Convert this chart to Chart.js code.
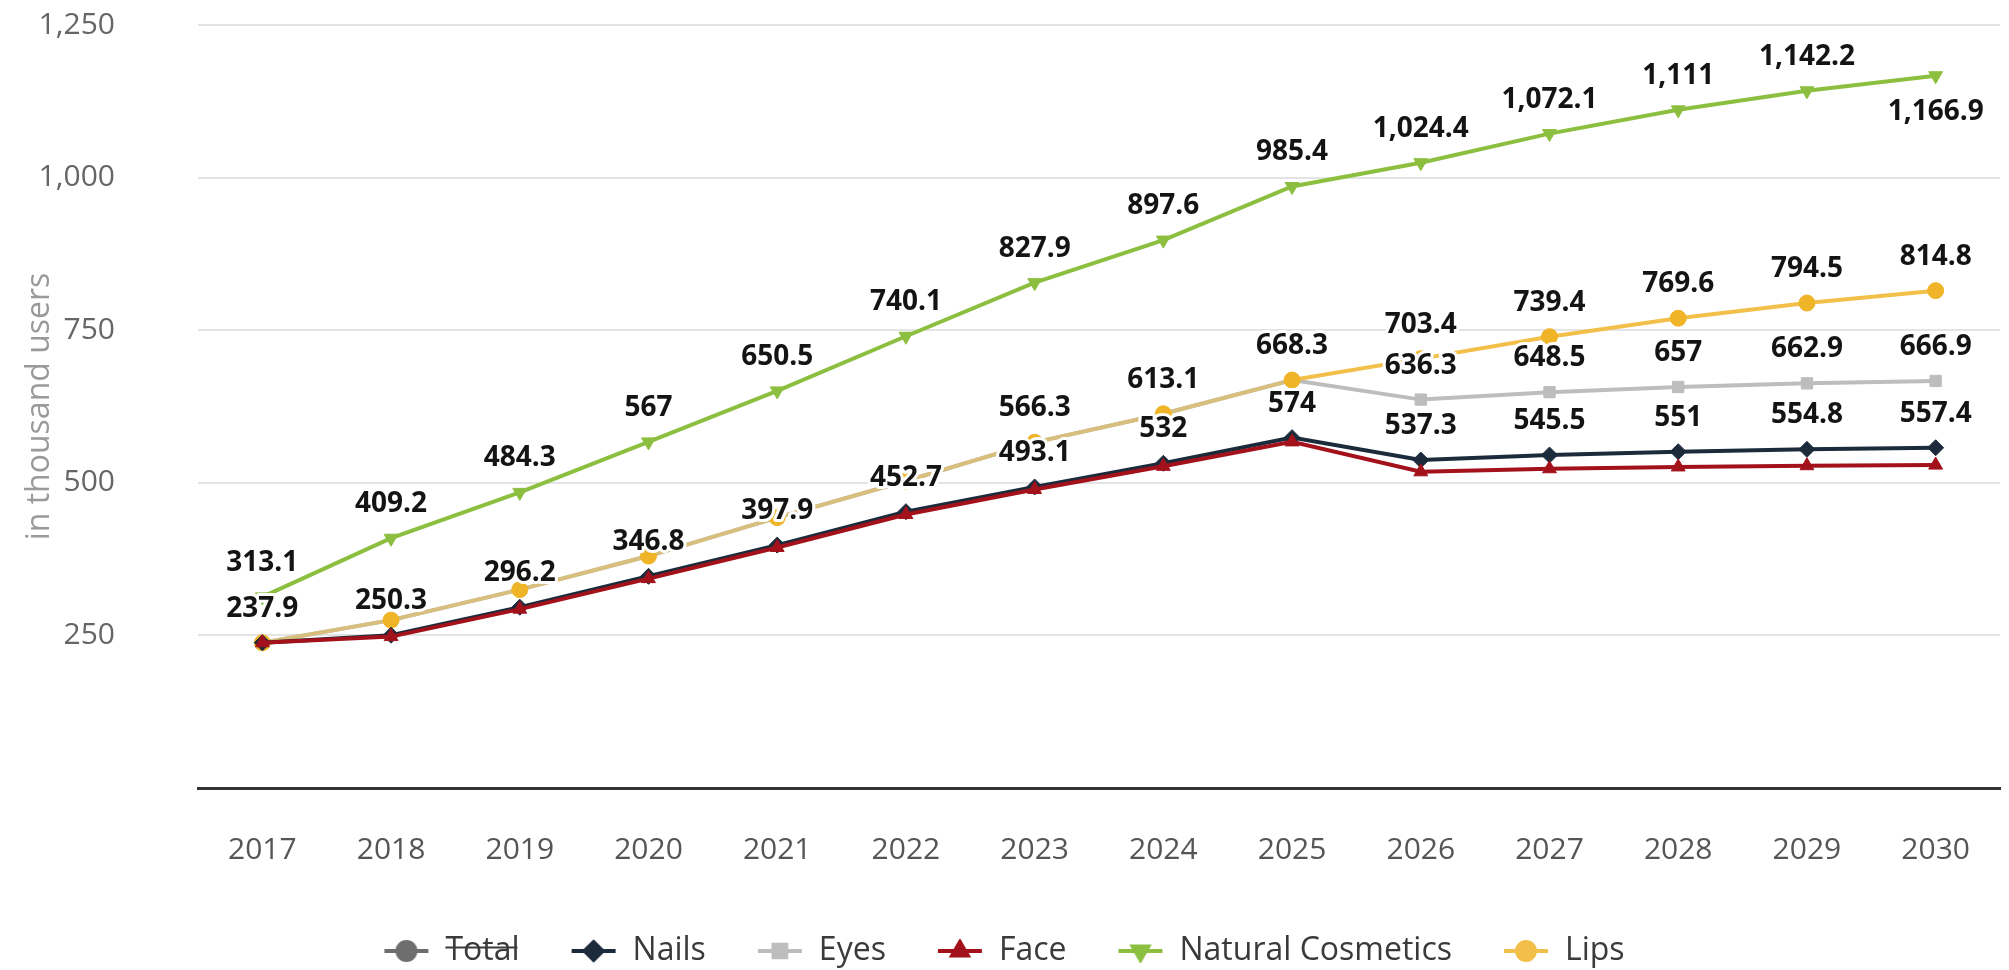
<!DOCTYPE html>
<html>
<head>
<meta charset="utf-8">
<script src="https://cdn.jsdelivr.net/npm/chart.js@4.4.1/dist/chart.umd.min.js"></script>
<style>
  html, body { margin: 0; padding: 0; background: #fff; }
  #wrap { width: 2009px; height: 970px; position: relative; }
</style>
</head>
<body>
<div id="wrap"><canvas id="users"></canvas></div>
<script>
const years = ['2017','2018','2019','2020','2021','2022','2023','2024','2025','2026','2027','2028','2029','2030'];
const total = [];
const nails = [237.9, 250.3, 296.2, 346.8, 397.9, 452.7, 493.1, 532, 574, 537.3, 545.5, 551, 554.8, 557.4];
const eyes = [237.9, 275, 325, 380, 443, 503, 566.3, 613.1, 668.3, 636.3, 648.5, 657, 662.9, 666.9];
const face = [237.9, 248, 293, 343, 394, 448, 489, 527, 567, 518, 523, 526, 528, 529];
const naturalCosmetics = [313.1, 409.2, 484.3, 567, 650.5, 740.1, 827.9, 897.6, 985.4, 1024.4, 1072.1, 1111, 1142.2, 1166.9];
const lips = [237.9, 275, 325, 380, 443, 503, 566.3, 613.1, 668.3, 703.4, 739.4, 769.6, 794.5, 814.8];
const yTicks = [0, 250, 500, 750, 1000, 1250];

// which series get value labels, first ones win when labels collide
const labelPriority = ['Natural Cosmetics', 'Nails', 'Eyes', 'Lips', 'Face'];

const fmt = v => v.toLocaleString('en-US', { maximumFractionDigits: 1 });

// legend icon: blank gap on the left (spacing between items), then line + marker
const ICON_GAP = 47;
function icon(color, style, rot) {
  const c = document.createElement('canvas');
  c.width = ICON_GAP + 46; c.height = 24;
  const g = c.getContext('2d');
  g.strokeStyle = color; g.lineWidth = 4;
  g.beginPath(); g.moveTo(ICON_GAP + 1, 12); g.lineTo(ICON_GAP + 45, 12); g.stroke();
  g.fillStyle = color;
  Chart.helpers.drawPoint(g, { pointStyle: style, radius: 9, rotation: rot || 0, borderWidth: 1 }, ICON_GAP + 23, 12);
  g.fill();
  return c;
}

function series(label, data, color, style, rot, order, extra) {
  return Object.assign({
    label: label,
    data: data,
    borderColor: color,
    backgroundColor: color,
    borderWidth: 4,
    pointStyle: style,
    pointRotation: rot || 0,
    pointRadius: 8,
    pointHoverRadius: 8,
    pointBorderWidth: 1,
    tension: 0,
    order: order,
    icon: icon(color, style, rot)
  }, extra || {});
}

const valueLabels = {
  id: 'valueLabels',
  afterDatasetsDraw(chart) {
    const ctx = chart.ctx;
    const area = chart.chartArea;
    const placed = [];
    ctx.save();
    ctx.font = 'bold 28px "Open Sans"';
    ctx.textAlign = 'center';
    ctx.textBaseline = 'middle';
    labelPriority.forEach(name => {
      const i = chart.data.datasets.findIndex(d => d.label === name);
      if (i < 0 || !chart.isDatasetVisible(i)) return;
      const meta = chart.getDatasetMeta(i);
      meta.data.forEach((pt, j) => {
        const text = fmt(chart.data.datasets[i].data[j]);
        const w = ctx.measureText(text).width;
        const h = 36;
        let cy = pt.y - 34;
        if (cy - h / 2 < area.top + 8) cy = pt.y + 36;
        const box = { l: pt.x - w / 2, r: pt.x + w / 2, t: cy - h / 2, b: cy + h / 2 };
        if (placed.some(p => p.l < box.r && box.l < p.r && p.t < box.b && box.t < p.b)) return;
        placed.push(box);
        ctx.lineWidth = 6;
        ctx.lineJoin = 'round';
        ctx.strokeStyle = '#fff';
        ctx.strokeText(text, pt.x, cy);
        ctx.fillStyle = '#141414';
        ctx.fillText(text, pt.x, cy);
      });
    });
    ctx.restore();
  }
};

const yTitle = {
  id: 'yTitle',
  afterDraw(chart) {
    const ctx = chart.ctx;
    const area = chart.chartArea;
    ctx.save();
    ctx.translate(40, (area.top + area.bottom) / 2);
    ctx.rotate(-Math.PI / 2);
    ctx.font = '32px "Open Sans"';
    ctx.fillStyle = '#9a9a9a';
    ctx.textAlign = 'center';
    ctx.textBaseline = 'middle';
    ctx.fillText('in thousand users', 0, 0);
    ctx.restore();
  }
};

// where Lips runs on top of Eyes the two colours blend into a tan line
const lipsSegment = {
  borderColor: c => (eyes[c.p0DataIndex] === lips[c.p0DataIndex] && eyes[c.p1DataIndex] === lips[c.p1DataIndex]) ? '#d9bf7e' : undefined
};

new Chart(document.getElementById('users'), {
  type: 'line',
  data: {
    labels: years,
    datasets: [
      series('Total', total, '#6e6e6e', 'circle', 0, 5, { hidden: true }),
      series('Nails', nails, '#1c2b3b', 'rectRot', 0, 2),
      series('Eyes', eyes, '#bdbdbd', 'rect', 0, 4),
      series('Face', face, '#a3121b', 'triangle', 0, 1),
      series('Natural Cosmetics', naturalCosmetics, '#8cbf3f', 'triangle', 180, 0),
      series('Lips', lips, '#f2c04a', 'circle', 0, 3, { pointBackgroundColor: '#f0b428', pointBorderColor: '#f0b428', segment: lipsSegment })
    ]
  },
  options: {
    responsive: true,
    maintainAspectRatio: false,
    animation: false,
    // negative left/bottom padding only recentres the legend (its icons carry a blank on the left)
    layout: { padding: { top: 25, right: 7, bottom: -7, left: -41 } },
    plugins: {
      tooltip: { enabled: false },
      legend: {
        position: 'bottom',
        labels: {
          usePointStyle: true,
          pointStyleWidth: ICON_GAP + 46,
          padding: 4,
          color: '#3a3a3a',
          font: { family: 'Open Sans', size: 32 },
          sort: (a, b) => a.datasetIndex - b.datasetIndex,
          generateLabels(chart) {
            const items = Chart.defaults.plugins.legend.labels.generateLabels(chart);
            items.forEach(it => {
              it.pointStyle = chart.data.datasets[it.datasetIndex].icon;
              it.rotation = 0;
            });
            return items;
          }
        }
      }
    },
    scales: {
      x: {
        offset: true,
        grid: { display: false },
        border: { display: true, color: '#333', width: 3 },
        ticks: { color: '#555', padding: 36, font: { family: 'Open Sans', size: 30 } },
        afterFit(s) { s.height = 143; }
      },
      y: {
        min: yTicks[0],
        max: yTicks[yTicks.length - 1],
        afterBuildTicks(s) { s.ticks = yTicks.map(v => ({ value: v })); },
        grid: { color: '#e4e4e4', lineWidth: 2, drawTicks: false },
        border: { display: false },
        ticks: {
          color: '#666',
          padding: 83,
          font: { family: 'Open Sans', size: 30 },
          callback: v => v === 0 ? '' : fmt(v)
        },
        afterFit(s) { s.width = 239; s.paddingTop = 0; s.paddingBottom = 0; }
      }
    }
  },
  plugins: [valueLabels, yTitle]
});
</script>
</body>
</html>
